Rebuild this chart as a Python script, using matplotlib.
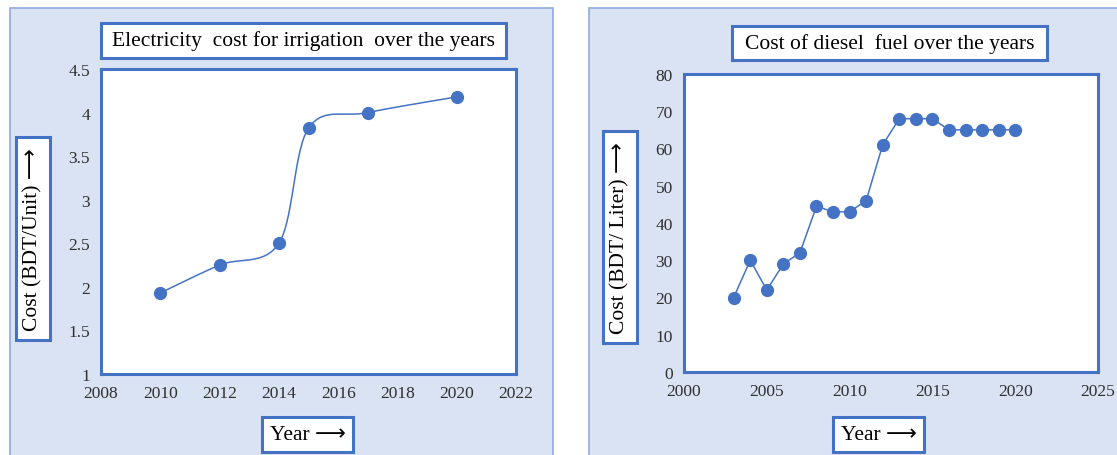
import matplotlib.pyplot as plt
import numpy as np
from matplotlib.patches import Rectangle

# data
elec_years = [2010, 2012, 2014, 2015, 2017, 2020]
elec_cost = [1.93, 2.25, 2.5, 3.82, 4.0, 4.18]

diesel_years = list(range(2003, 2021))
diesel_cost = [20, 30, 22, 29, 32, 44.5, 43, 43, 46, 61, 68, 68, 68, 65, 65, 65, 65, 65]

W, H = 1117, 456
BLUE = "#4472C4"
PANEL = "#DAE3F3"
plt.rcParams['font.family'] = ['Liberation Serif', 'DejaVu Sans']

fig = plt.figure(figsize=(W / 100, H / 100), dpi=100)
fig.patch.set_facecolor("white")


def px_box(x0, y0, x1, y1):
    # pixel box (top-left origin) -> figure fraction rect
    return [x0 / W, 1 - y1 / H, (x1 - x0) / W, (y1 - y0) / H]


def fig_rect(x0, y0, x1, y1, fc, ec, lw, z=0):
    l, b, w, h = px_box(x0, y0, x1, y1)
    fig.patches.append(Rectangle((l, b), w, h, transform=fig.transFigure,
                                 facecolor=fc, edgecolor=ec, linewidth=lw, zorder=z))


def boxed_text(x0, y0, x1, y1, txt, rot=0, size=15.5):
    fig_rect(x0, y0, x1, y1, "white", BLUE, 2.2, z=1)
    fig.text((x0 + x1) / 2 / W, 1 - (y0 + y1) / 2 / H, txt, rotation=rot,
             ha="center", va="center", fontsize=size, zorder=2)


def smooth(x, y, n=30):
    # Excel-like smoothed line: cubic bezier between points
    x = np.asarray(x, float)
    y = np.asarray(y, float)
    px, py = [], []
    for i in range(len(x) - 1):
        i0 = max(i - 1, 0)
        i3 = min(i + 2, len(x) - 1)
        c1x = x[i] + (x[i + 1] - x[i0]) / 6
        c1y = y[i] + (y[i + 1] - y[i0]) / 6
        c2x = x[i + 1] - (x[i3] - x[i]) / 6
        c2y = y[i + 1] - (y[i3] - y[i]) / 6
        t = np.linspace(0, 1, n)
        px.extend((1 - t) ** 3 * x[i] + 3 * (1 - t) ** 2 * t * c1x + 3 * (1 - t) * t ** 2 * c2x + t ** 3 * x[i + 1])
        py.extend((1 - t) ** 3 * y[i] + 3 * (1 - t) ** 2 * t * c1y + 3 * (1 - t) * t ** 2 * c2y + t ** 3 * y[i + 1])
    return px, py


# panel backgrounds
fig_rect(10, 9, 553, 470, PANEL, "#8FAADC", 1.2, z=-5)
fig_rect(589, 9, 1130, 470, PANEL, "#8FAADC", 1.2, z=-5)


def style_ax(ax):
    ax.set_zorder(3)
    ax.set_facecolor("white")
    for s in ax.spines.values():
        s.set_color(BLUE)
        s.set_linewidth(2.2)
    ax.tick_params(length=0, labelsize=12.5, colors="#303030", pad=8)


# left chart
ax1 = fig.add_axes(px_box(101, 70, 516, 375))
sx, sy = smooth(elec_years, elec_cost)
ax1.plot(sx, sy, color=BLUE, lw=1.1)
ax1.plot(elec_years, elec_cost, "o", color=BLUE, ms=8.5)
ax1.set_xlim(2008, 2022)
ax1.set_ylim(1, 4.5)
ax1.set_xticks(range(2008, 2023, 2))
ax1.set_yticks([1, 1.5, 2, 2.5, 3, 3.5, 4, 4.5])
ax1.set_yticklabels(["1", "1.5", "2", "2.5", "3", "3.5", "4", "4.5"])
style_ax(ax1)

# right chart
ax2 = fig.add_axes(px_box(684, 75, 1098, 373))
ax2.plot(diesel_years, diesel_cost, "-o", color=BLUE, lw=1.1, ms=8.5)
ax2.set_xlim(2000, 2025)
ax2.set_ylim(0, 80)
ax2.set_xticks(range(2000, 2026, 5))
ax2.set_yticks(range(0, 81, 10))
style_ax(ax2)

boxed_text(101, 24, 506, 59, "Electricity  cost for irrigation  over the years")
boxed_text(16, 138, 50, 341, "Cost (BDT/Unit) \u27f6", rot=90)
boxed_text(262, 418, 353, 453, "Year \u27f6")

boxed_text(732, 27, 1047, 61, "Cost of diesel  fuel over the years")
boxed_text(603, 132, 637, 344, "Cost (BDT/ Liter) \u27f6", rot=90)
boxed_text(833, 418, 924, 453, "Year \u27f6")

fig.savefig("out.png", dpi=100)
